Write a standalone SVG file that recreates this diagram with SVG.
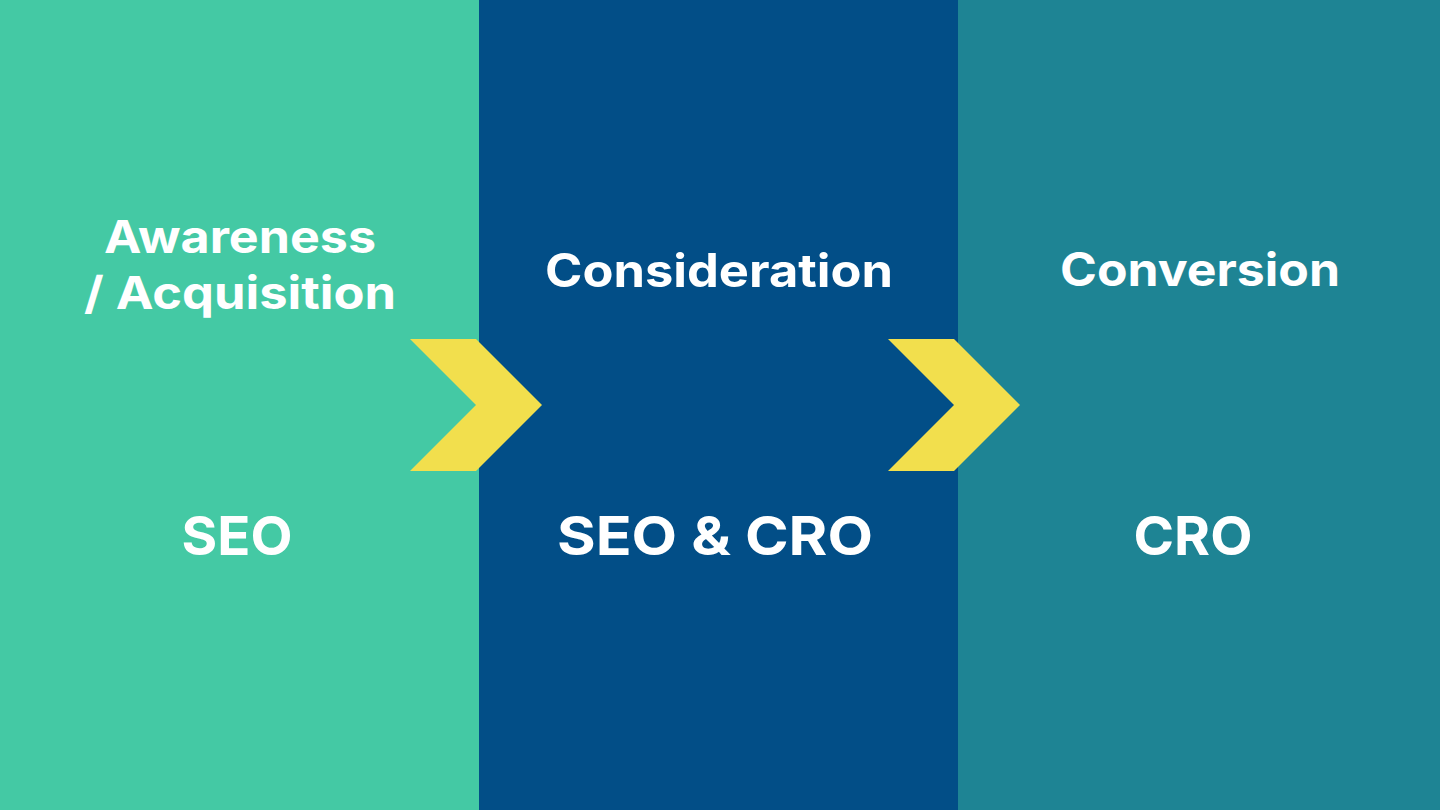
<svg xmlns="http://www.w3.org/2000/svg" width="1440" height="810" viewBox="0 0 1440 810">
<style>
.t{font-family:Inter,"Open Sans","Liberation Sans",sans-serif;font-weight:700;fill:#ffffff;text-anchor:middle}
.h{font-size:46px}
.a{font-size:45px}
.b{font-size:54px}
.chev{fill:#F2DF4D}
</style>
<g id="col-awareness">
<rect x="0" y="0" width="479" height="810" fill="#44C9A4"/>
<text class="t a" x="240" y="253" textLength="272" lengthAdjust="spacingAndGlyphs">Awareness</text>
<text class="t a" x="240" y="309" textLength="312" lengthAdjust="spacingAndGlyphs">/ Acquisition</text>
<text class="t b" x="237" y="555" textLength="111" lengthAdjust="spacingAndGlyphs">SEO</text>
</g>
<g id="col-consideration">
<rect x="479" y="0" width="479" height="810" fill="#024E87"/>
<text class="t h" x="719" y="287" textLength="348" lengthAdjust="spacingAndGlyphs">Consideration</text>
<text class="t b" x="715" y="555" textLength="316" lengthAdjust="spacingAndGlyphs">SEO &amp; CRO</text>
</g>
<g id="col-conversion">
<rect x="958" y="0" width="482" height="810" fill="#1E8494"/>
<text class="t h" x="1200" y="286" textLength="280" lengthAdjust="spacingAndGlyphs">Conversion</text>
<text class="t b" x="1193" y="555" textLength="119" lengthAdjust="spacingAndGlyphs">CRO</text>
</g>
<g id="connectors">
<polygon class="chev" points="410,339 476,339 542,405 476,471 410,471 476,405"/>
<polygon class="chev" points="888,339 954,339 1020,405 954,471 888,471 954,405"/>
</g>
</svg>
